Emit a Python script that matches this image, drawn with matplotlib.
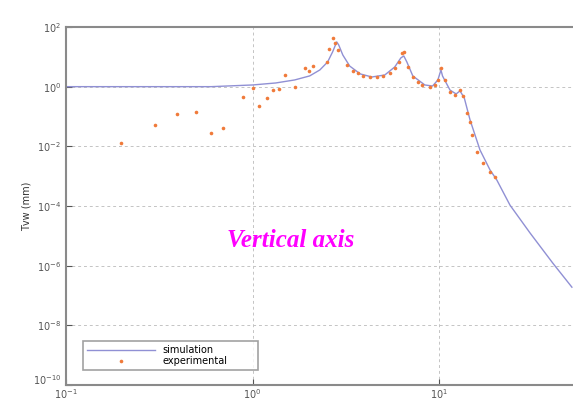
import numpy as np
import matplotlib
matplotlib.use('Agg')
import matplotlib.pyplot as plt

# simulation curve (frequency, Tvw in mm)
sim_f = [0.1, 0.3, 0.6, 1.0, 1.33, 1.68, 2.02, 2.29, 2.52, 2.68, 2.82, 2.89,
         3.04, 3.31, 3.77, 4.35, 5.1, 5.77, 6.22, 6.45, 6.70, 7.21, 8.36, 9.2,
         9.82, 10.2, 10.4, 11.4, 12.3, 12.9, 13.6, 14.6, 16.5, 18.7, 20.3,
         23.9, 30.6, 40.6, 51.3]
sim_t = [1.0, 1.0, 1.0, 1.14, 1.33, 1.68, 2.29, 3.63, 6.7, 14.6, 31.6, 25.0,
         11.5, 4.9, 2.67, 2.11, 2.46, 4.57, 9.2, 10.7, 6.7, 2.28, 1.14, 1.05,
         1.68, 3.63, 2.28, 0.77, 0.57, 0.72, 0.42, 0.077, 0.0076, 0.0016,
         0.00075, 1.07e-4, 1.25e-5, 1.2e-6, 1.9e-7]

# experimental points
exp_f = [0.196, 0.298, 0.391, 0.495, 0.595, 0.690, 0.884, 1.0, 1.077, 1.19,
         1.28, 1.38, 1.49, 1.68, 1.90, 2.00, 2.10, 2.49, 2.56, 2.68, 2.75,
         2.86, 3.19, 3.44, 3.66, 3.89, 4.24, 4.62, 4.98, 5.43, 5.77, 6.07,
         6.29, 6.45, 6.78, 7.21, 7.67, 8.06, 8.89, 9.46, 9.82, 10.2, 10.7,
         11.4, 12.1, 12.9, 13.4, 14.0, 14.6, 14.9, 15.9, 17.1, 18.7, 19.8]
exp_t = [0.013, 0.052, 0.122, 0.142, 0.028, 0.041, 0.45, 0.90, 0.225, 0.42,
         0.77, 0.84, 2.47, 0.98, 4.24, 3.36, 4.94, 6.73, 18.4, 43.0, 29.2,
         17.0, 5.3, 3.36, 2.88, 2.28, 2.11, 2.11, 2.28, 2.88, 4.24, 6.73,
         13.5, 14.6, 4.57, 2.11, 1.44, 1.14, 0.98, 1.14, 1.68, 4.24, 1.68,
         0.66, 0.53, 0.77, 0.49, 0.131, 0.066, 0.024, 0.0065, 0.0028,
         0.00138, 0.00094]

yticks = [1e2, 1e0, 1e-2, 1e-4, 1e-6, 1e-8, 1e-10]
ylabels = ['$10^{2}$', '$10^{0}$', '$10^{-2}$', '$10^{-4}$', '$10^{-6}$',
           '$10^{-8}$', '$10^{-10}$']
xticks = [0.1, 1, 10]
xlabels = ['$10^{-1}$', '$10^{0}$', '$10^{1}$']

fig = plt.figure(figsize=(5.73, 4.01), dpi=100)
ax = fig.add_axes([0.1152, 0.0399, 0.8848, 0.8928])

ax.plot(sim_f, sim_t, color='#9090d4', lw=1.0, label='simulation')
ax.plot(exp_f, exp_t, ls='none', marker='o', ms=2.6, color='#f07a3a',
        markeredgewidth=0, label='experimental')

ax.set_xscale('log')
ax.set_yscale('log')
ax.set_xlim(0.1, 52)
ax.set_ylim(1e-10, 1e2)
ax.set_xticks(xticks)
ax.set_xticklabels(xlabels)
ax.set_yticks(yticks)
ax.set_yticklabels(ylabels)
ax.minorticks_off()
ax.tick_params(direction='in', length=4, labelsize=7, colors='#555555')
ax.tick_params(axis='x', pad=1.5)
ax.grid(True, color='#c4c4c4', ls=(0, (3, 3)), lw=0.7)
# keep the corner labels apart
ax.get_yticklabels()[-1].set_va('baseline')

for s in ['left', 'bottom', 'top']:
    ax.spines[s].set_color('#8a8a8a')
    ax.spines[s].set_linewidth(1.5)
ax.spines['right'].set_visible(False)

ax.set_ylabel('Tvw (mm)', fontsize=7, color='#333333', labelpad=1)

ax.text(0.444, 0.405, 'Vertical axis', transform=ax.transAxes,
        fontsize=18, color='#ff00ff', fontweight='bold', fontstyle='italic',
        family='Liberation Serif', ha='center', va='center')

leg = ax.legend(loc='lower left', bbox_to_anchor=(0.024, 0.028, 0.365, 0.109),
                mode='expand', fontsize=7, frameon=True, fancybox=False,
                borderpad=0.4, labelspacing=0.1, handlelength=7.0,
                markerfirst=True)
leg.get_frame().set_edgecolor('#8a8a8a')
leg.get_frame().set_linewidth(1.2)
for t in leg.get_texts():
    t.set_ha('left')

plt.savefig('out.png', dpi=100)
